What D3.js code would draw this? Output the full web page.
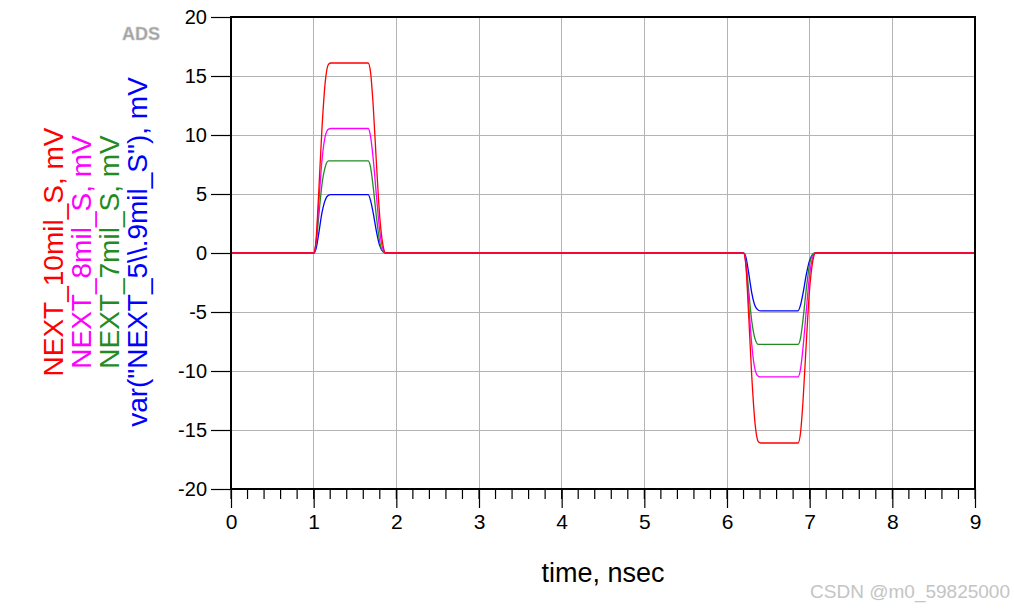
<!DOCTYPE html>
<html>
<head>
<meta charset="utf-8">
<script src="https://cdn.jsdelivr.net/npm/d3@7"></script>
<style>
  body { margin: 0; background: white; }
  svg text { font-family: Arial, "Liberation Sans", sans-serif; }
</style>
</head>
<body>
<div id="chart"></div>
<script>
// time axis (nsec) shared by all traces
var times = [0, 1.0, 1.03, 1.06, 1.1, 1.14, 1.18, 1.21, 1.66, 1.69, 1.72, 1.76, 1.8, 1.84, 1.87,
             6.2, 6.23, 6.26, 6.3, 6.34, 6.38, 6.41, 6.86, 6.89, 6.92, 6.96, 7.0, 7.04, 7.07, 9];

// values in mV
var next10 = [0, 0, 1.2, 5, 10.5, 14.5, 16, 16.1, 16.1, 15.2, 12.5, 7.5, 3, 0.6, 0,
              0, -1.2, -5, -10.5, -14.5, -16, -16.1, -16.1, -15.2, -12.5, -7.5, -3, -0.6, 0, 0];
var next8 = [0, 0, 1, 4, 7.8, 9.9, 10.5, 10.55, 10.55, 9.8, 8, 4.8, 1.8, 0.3, 0,
             0, -1, -4, -7.8, -9.9, -10.45, -10.5, -10.5, -9.8, -8, -4.8, -1.8, -0.3, 0, 0];
var next7 = [0, 0, 0.8, 3, 5.8, 7.3, 7.8, 7.8, 7.8, 7.2, 5.6, 3, 0.9, 0.1, 0,
             0, -0.8, -3, -5.8, -7.3, -7.75, -7.75, -7.75, -7.2, -5.6, -3, -0.9, -0.1, 0, 0];
var next59 = [0, 0, 0.4, 1.6, 3.4, 4.5, 4.9, 4.95, 4.95, 4.4, 3.4, 1.8, 0.6, 0.1, 0,
              0, -0.4, -1.6, -3.4, -4.5, -4.85, -4.9, -4.9, -4.4, -3.4, -1.8, -0.6, -0.1, 0, 0];

var seriesNames = ["NEXT_10mil_S, mV", "NEXT_8mil_S, mV", "NEXT_7mil_S, mV", 'var("NEXT_5\\\\.9mil_S"), mV'];
var seriesColors = ["#ff0000", "#ff00ff", "#228b22", "#0000ff"];
var seriesValues = [next10, next8, next7, next59];

var xTicks = [0, 1, 2, 3, 4, 5, 6, 7, 8, 9];
var yTicks = [-20, -15, -10, -5, 0, 5, 10, 15, 20];

var W = 1014, H = 611;
var margin = { top: 17, right: 39, bottom: 122, left: 231 },
  width = W - margin.left - margin.right,
  height = H - margin.top - margin.bottom;

var root = d3.select("#chart").append("svg").attr("width", W).attr("height", H);
var svg = root.append("g").attr("transform", "translate(" + margin.left + "," + margin.top + ")");

var x = d3.scaleLinear().domain([0, 9]).range([0, width]);
var y = d3.scaleLinear().domain([-20, 20]).range([height, 0]);

// plain hyphen for negatives, like the original
var plain = function (d) { return String(d); };

// grid
svg.append("g").selectAll("line").data(xTicks.slice(1, -1)).enter().append("line")
  .attr("x1", function (d) { return x(d); }).attr("x2", function (d) { return x(d); })
  .attr("y1", 0).attr("y2", height)
  .attr("stroke", "#b4b4b4").attr("stroke-width", 1).attr("shape-rendering", "crispEdges");
svg.append("g").selectAll("line").data(yTicks.slice(1, -1)).enter().append("line")
  .attr("y1", function (d) { return y(d); }).attr("y2", function (d) { return y(d); })
  .attr("x1", 0).attr("x2", width)
  .attr("stroke", "#b4b4b4").attr("stroke-width", 1).attr("shape-rendering", "crispEdges");

// traces, red drawn last so it is on top
var line = d3.line().x(function (d) { return x(d[0]); }).y(function (d) { return y(d[1]); })
  .curve(d3.curveMonotoneX);
for (var s = seriesValues.length - 1; s >= 0; s--) {
  var pts = times.map(function (t, i) { return [t, seriesValues[s][i]]; });
  svg.append("path").datum(pts).attr("d", line)
    .attr("fill", "none").attr("stroke", seriesColors[s]).attr("stroke-width", 1.3);
}

// frame
svg.append("rect").attr("x", 0).attr("y", 0).attr("width", width).attr("height", height)
  .attr("fill", "none").attr("stroke", "black").attr("stroke-width", 1.2).attr("shape-rendering", "crispEdges");

// y axis
var yAxis = svg.append("g")
  .call(d3.axisLeft(y).tickValues(yTicks).tickFormat(plain).tickSize(20).tickPadding(4));
yAxis.select(".domain").remove();
yAxis.selectAll("line").attr("stroke", "black").attr("stroke-width", 1.2);
yAxis.selectAll("text").style("font-size", "20px").attr("fill", "black");

// x axis with minor ticks
var minor = d3.range(0, 9.001, 0.2);
svg.append("g").attr("transform", "translate(0," + height + ")").selectAll("line")
  .data(minor).enter().append("line")
  .attr("x1", function (d) { return x(d); }).attr("x2", function (d) { return x(d); })
  .attr("y1", 0).attr("y2", 10).attr("stroke", "black").attr("stroke-width", 1.2);
var xAxis = svg.append("g").attr("transform", "translate(0," + height + ")")
  .call(d3.axisBottom(x).tickValues(xTicks).tickFormat(plain).tickSize(19).tickPadding(6));
xAxis.select(".domain").remove();
xAxis.selectAll("line").attr("stroke", "black").attr("stroke-width", 1.2);
xAxis.selectAll("text").style("font-size", "21px").attr("fill", "black");

// x title
root.append("text").attr("x", 603).attr("y", 582).attr("text-anchor", "middle")
  .style("font-size", "27px").text("time, nsec");

// y titles (stacked, rotated)
var legendX = [63, 91, 119, 147];
seriesNames.forEach(function (name, i) {
  root.append("text")
    .attr("transform", "translate(" + legendX[i] + ",252) rotate(-90)")
    .attr("text-anchor", "middle")
    .style("font-size", "28px")
    .attr("fill", seriesColors[i])
    .text(name);
});

// ADS mark
root.append("text").attr("x", 141).attr("y", 40).attr("text-anchor", "middle")
  .style("font-size", "18px").style("font-weight", "bold")
  .attr("fill", "#a0a0a0").attr("stroke", "#d0d0d0").attr("stroke-width", 0.6)
  .text("ADS");

// watermark
root.append("text").attr("x", 1010).attr("y", 598).attr("text-anchor", "end")
  .style("font-size", "19px").attr("fill", "#c4c4c4")
  .text("CSDN @m0_59825000");
</script>
</body>
</html>
